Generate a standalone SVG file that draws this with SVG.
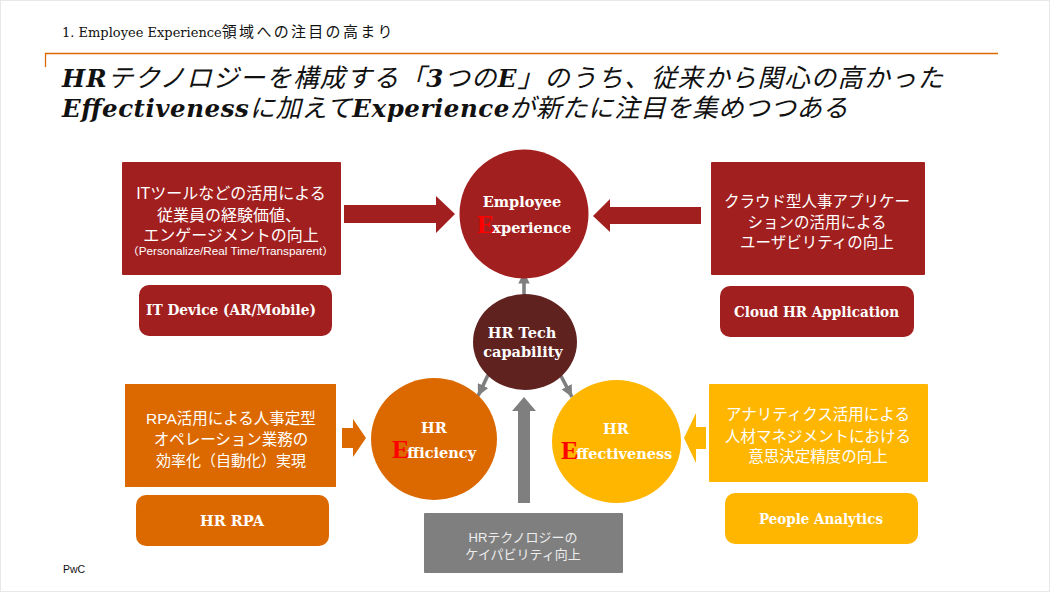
<svg xmlns="http://www.w3.org/2000/svg" width="1050" height="592" viewBox="0 0 1050 592">
<style>
.jp{font-family:"Liberation Sans","Noto Sans CJK JP",sans-serif;fill:#fff;font-size:15.5px;text-anchor:middle}
.jp16{font-size:16px}
.jp13{font-size:13px;fill:#eee}
.lb{font-family:"DejaVu Serif","Noto Sans CJK JP",serif;font-weight:bold;fill:#fff;font-size:14.5px}
.m{text-anchor:middle}
.e{font-family:"Liberation Serif",serif;font-weight:bold;fill:#f00;font-size:26px}
.red{fill:#a21f1f}.org{fill:#dc6900}.yel{fill:#ffb600}.gry{fill:#7f7f7f}.drk{fill:#5f221f}
.tt{font-family:"DejaVu Serif","Noto Sans CJK JP",serif;font-style:italic;fill:#111;font-size:25.5px}
.tt .b{font-weight:bold;font-size:24.5px}
</style>
<defs>
<marker id="ah" viewBox="0 0 10 10" refX="10" refY="5" markerWidth="3.2" markerHeight="3.2" orient="auto"><path d="M0 0L10 5L0 10z" fill="#7f7f7f"/></marker>
</defs>
<rect x="0.5" y="0.5" width="1049" height="591" fill="#fff" stroke="#e8e8e8"/>
<g id="header">
<text x="62" y="37" font-family="'DejaVu Serif','Noto Sans CJK JP',serif" font-size="13px" fill="#111">1. Employee Experience<tspan font-size="15px" letter-spacing="2.3">領域への注目の高まり</tspan></text>
<path d="M45.5 67V53.5H998" fill="none" stroke="#dc6900" stroke-width="1.3"/>
<text class="tt" x="62" y="87" textLength="881"><tspan class="b">HR</tspan>テクノロジーを構成する「<tspan class="b">3</tspan>つの<tspan class="b">E</tspan>」のうち、従来から関心の高かった</text>
<text class="tt" x="62" y="117" textLength="786"><tspan class="b">Effectiveness</tspan>に加えて<tspan class="b">Experience</tspan>が新たに注目を集めつつある</text>
</g>
<g id="connectors">
<polygon class="red" points="344,205 436,205 436,196 455,214 436,233 436,223 344,223"/>
<polygon class="red" points="701,207 610,207 610,199 593,216 610,232 610,224 701,224"/>
<polygon class="org" points="342,428 353,428 353,419 366,438 353,457 353,448 342,448"/>
<polygon class="yel" points="706,427 696,427 696,413 684,438 696,463 696,449 706,449"/>
<polygon class="gry" points="518,503 518,411 512,411 524,397 536,411 530,411 530,503"/>
<g fill="none" stroke="#7f7f7f" stroke-width="3.6" marker-end="url(#ah)">
<line x1="524" y1="295" x2="524" y2="272"/>
<line x1="488" y1="375" x2="478" y2="396"/>
<line x1="561" y1="376" x2="572" y2="397"/>
</g>
</g>
<g id="box-it"><rect class="red" x="122" y="162" width="219" height="113" rx="1"/>
<text class="jp jp16" x="231" y="199">ITツールなどの活用による</text>
<text class="jp jp16" x="229" y="221">従業員の経験価値、</text>
<text class="jp jp16" x="231" y="241">エンゲージメントの向上</text>
<text class="jp" x="127" y="255" style="font-size:10.5px;text-anchor:start" textLength="207" lengthAdjust="spacingAndGlyphs">（Personalize/Real Time/Transparent）</text></g>
<g id="pill-it"><rect class="red" x="139" y="285" width="193" height="51" rx="10"/>
<text class="lb" x="146" y="315" textLength="170" lengthAdjust="spacingAndGlyphs">IT Device (AR/Mobile)</text></g>
<g id="box-cloud"><rect class="red" x="711" y="162" width="214" height="113" rx="1"/>
<text class="jp" x="817" y="207">クラウド型人事アプリケー</text>
<text class="jp" x="817" y="228">ションの活用による</text>
<text class="jp" x="817" y="248">ユーザビリティの向上</text></g>
<g id="pill-cloud"><rect class="red" x="720" y="286" width="194" height="51" rx="10"/>
<text class="lb" x="734" y="317" textLength="165" lengthAdjust="spacingAndGlyphs">Cloud HR Application</text></g>
<g id="circle-experience"><circle class="red" cx="524" cy="214" r="64.5"/>
<text class="lb m" x="522" y="207">Employee</text>
<text x="477" y="233"><tspan class="e">E</tspan><tspan class="lb" dx="-2">xperience</tspan></text></g>
<g id="circle-capability"><ellipse class="drk" cx="525" cy="342" rx="52" ry="48"/>
<text class="lb m" x="522" y="338">HR Tech</text>
<text class="lb m" x="523" y="357">capability</text></g>
<g id="circle-efficiency"><ellipse class="org" cx="434" cy="439" rx="63" ry="61"/>
<text class="lb m" x="434" y="433">HR</text>
<text x="392" y="458"><tspan class="e">E</tspan><tspan class="lb" dx="-2">fficiency</tspan></text></g>
<g id="circle-effectiveness"><ellipse class="yel" cx="616.5" cy="441.5" rx="64.5" ry="61.5"/>
<text class="lb m" x="616" y="434">HR</text>
<text x="561" y="459"><tspan class="e">E</tspan><tspan class="lb" dx="-2">ffectiveness</tspan></text></g>
<g id="box-rpa"><rect class="org" x="125" y="384" width="211" height="103"/>
<text class="jp" x="231" y="424">RPA活用による人事定型</text>
<text class="jp" x="231" y="445">オペレーション業務の</text>
<text class="jp" x="231" y="466" style="font-size:15px">効率化（自動化）実現</text></g>
<g id="pill-rpa"><rect class="org" x="136" y="495" width="193" height="51" rx="10"/>
<text class="lb m" x="232" y="526">HR RPA</text></g>
<g id="box-analytics"><rect class="yel" x="709" y="384" width="219" height="98" rx="1"/>
<text class="jp" x="818" y="420">アナリティクス活用による</text>
<text class="jp" x="818" y="442">人材マネジメントにおける</text>
<text class="jp" x="818" y="462">意思決定精度の向上</text></g>
<g id="pill-analytics"><rect class="yel" x="725" y="493" width="193" height="51" rx="10"/>
<text class="lb" x="759" y="524" textLength="124" lengthAdjust="spacingAndGlyphs">People Analytics</text></g>
<g id="box-tech"><rect class="gry" x="424" y="513" width="199" height="60" rx="1"/>
<text class="jp jp13" x="523" y="542">HRテクノロジーの</text>
<text class="jp jp13" x="523" y="559">ケイパビリティ向上</text></g>
<text x="63" y="573" font-family="'Liberation Sans',sans-serif" font-size="10.5px" fill="#111">PwC</text>
</svg>
